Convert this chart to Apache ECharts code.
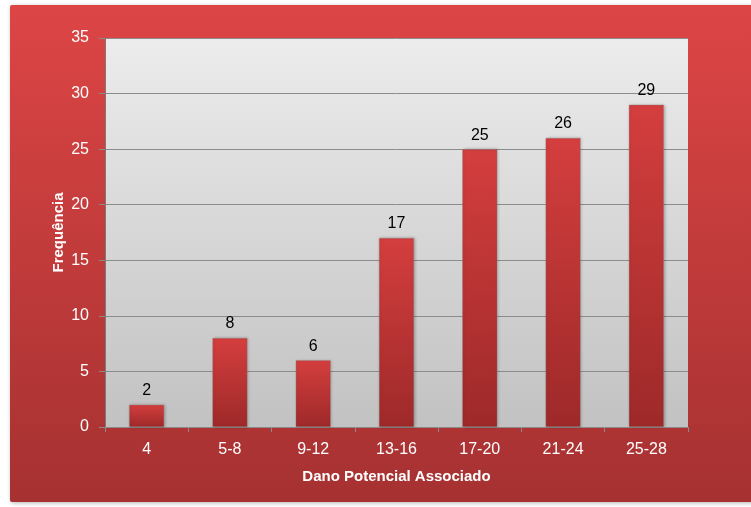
<!DOCTYPE html>
<html><head><meta charset="utf-8">
<script src="https://cdn.jsdelivr.net/npm/echarts@6/dist/echarts.min.js"></script>
<style>html,body{margin:0;padding:0;background:#fff}#c{width:751px;height:507px}</style>
</head><body><div id="c"></div>
<script>
const categories = ['4','5-8','9-12','13-16','17-20','21-24','25-28'];
const values = [2,8,6,17,25,26,29];
const yTicks = {min:0, max:35, interval:5};
const xTitle = 'Dano Potencial Associado';
const yTitle = 'Frequência';

const chart = echarts.init(document.getElementById('c'), null, {renderer:'canvas'});
const lg = (a,b)=>new echarts.graphic.LinearGradient(0,0,0,1,[{offset:0,color:a},{offset:1,color:b}]);
chart.setOption({
  animation:false,
  textStyle:{fontFamily:'Liberation Sans, Arial, sans-serif'},
  graphic:[{
    type:'rect', z:-10, silent:true,
    shape:{x:10,y:5,width:760,height:497,r:2},
    style:{fill:lg('#dd4545','#a63131'), shadowColor:'rgba(0,0,0,0.3)', shadowBlur:4, shadowOffsetX:1, shadowOffsetY:1}
  }],
  grid:{left:105,right:63,top:38,bottom:80,show:true,borderWidth:0,backgroundColor:lg('#ececec','#c2c2c2')},
  xAxis:{
    type:'category', data:categories,
    name:xTitle, nameLocation:'middle', nameGap:42, nameMoveOverlap:false,
    nameTextStyle:{color:'#fff',fontWeight:'bold',fontSize:15},
    axisLine:{lineStyle:{color:'#8a8a8a',width:1}},
    axisTick:{show:true,length:5,lineStyle:{color:'#8a8a8a'}},
    axisLabel:{color:'#fff',fontSize:16,margin:15}
  },
  yAxis:{
    type:'value', min:yTicks.min, max:yTicks.max, interval:yTicks.interval,
    name:yTitle, nameLocation:'middle', nameGap:39, nameRotate:90, nameMoveOverlap:false,
    nameTextStyle:{color:'#fff',fontWeight:'bold',fontSize:15},
    axisLine:{show:true,lineStyle:{color:'#7a7a7a',width:1}},
    axisTick:{show:true,length:6,lineStyle:{color:'#8a8a8a'}},
    axisLabel:{color:'#fff',fontSize:16,margin:16},
    splitLine:{lineStyle:{color:'#8c8c8c',width:1}}
  },
  series:[{
    type:'bar', data:values, barWidth:35,
    itemStyle:{color:lg('#d43e3e','#9e2929'), borderColor:'rgba(140,140,140,0.6)', borderWidth:0.5,
      shadowColor:'rgba(0,0,0,0.25)', shadowBlur:3, shadowOffsetX:1, shadowOffsetY:0},
    label:{show:true, position:'top', distance:6, color:'#000', fontSize:16}
  }]
});
</script></body></html>
